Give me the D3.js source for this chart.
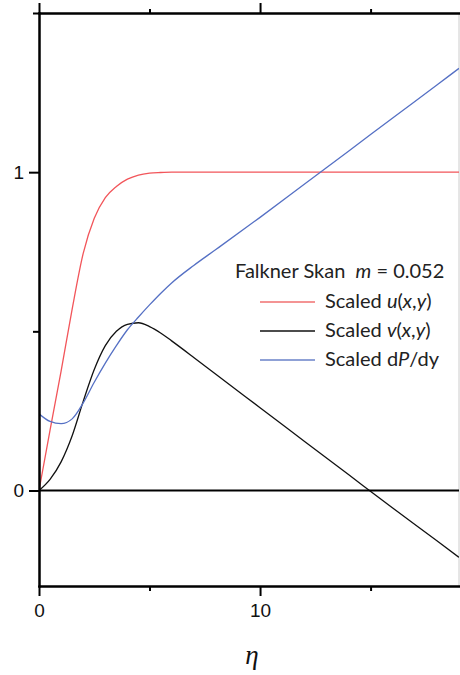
<!DOCTYPE html>
<html>
<head>
<meta charset="utf-8">
<script src="https://cdn.jsdelivr.net/npm/d3@7"></script>
<style>
  body { margin: 0; background: #fff; }
  svg { display: block; }
  .tick text { font-family: "Liberation Sans", Arial, sans-serif; font-size: 19px; fill: #111; }
  .legend text { font-family: Lato, "Open Sans", sans-serif; font-size: 20px; fill: #222; }
</style>
</head>
<body>
<div id="chart-area"></div>
<script>
// values
const eta    = [0, 0.5, 1, 1.5, 2, 2.5, 3, 3.5, 4, 4.5, 5, 5.5, 6, 7, 8, 10, 12, 14, 16, 18, 19];
const uScaled = [0, 0.19, 0.375, 0.57, 0.745, 0.855, 0.92, 0.955, 0.978, 0.991, 0.997, 0.999, 1, 1, 1, 1, 1, 1, 1, 1, 1];
const vScaled = [0, 0.035, 0.09, 0.172, 0.28, 0.38, 0.455, 0.5, 0.522, 0.527, 0.515, 0.495, 0.47, 0.418, 0.365, 0.26, 0.155, 0.05, -0.055, -0.158, -0.21];
const dpScaled = [0.241, 0.217, 0.21, 0.225, 0.275, 0.34, 0.40, 0.455, 0.505, 0.545, 0.583, 0.619, 0.652, 0.707, 0.757, 0.858, 0.962, 1.066, 1.17, 1.274, 1.326];

const xMajor = [0, 10], xMinor = [5, 15];
const yMajor = [0, 1], yMinor = [0.5, 1.5];

const W = 460, H = 675;
const X0 = 39, X1 = 459, Y0 = 586, Y1 = 13;

const svg = d3.select("#chart-area").append("svg")
  .attr("width", W)
  .attr("height", H);

const x = d3.scaleLinear().domain([0, 19]).range([X0, X1]);
const y = d3.scaleLinear().domain([-0.3, 1.5]).range([Y0, Y1]);

svg.append("clipPath").attr("id", "clip")
  .append("rect").attr("x", X0).attr("y", Y1).attr("width", X1 - X0).attr("height", Y0 - Y1);

// right frame edge (light)
svg.append("line")
  .attr("x1", X1).attr("x2", X1).attr("y1", Y1).attr("y2", Y0)
  .attr("stroke", "#ccc").attr("stroke-width", 1);

const series = [
  { name: "u", values: uScaled, color: "#f2555a" },
  { name: "v", values: vScaled, color: "#111" },
  { name: "dp", values: dpScaled, color: "#5570c4" }
];

const line = d3.line()
  .x(d => x(d[0]))
  .y(d => y(d[1]))
  .curve(d3.curveMonotoneX);

const plot = svg.append("g").attr("clip-path", "url(#clip)");
series.forEach(s => {
  plot.append("path")
    .datum(eta.map((e, i) => [e, s.values[i]]))
    .attr("fill", "none")
    .attr("stroke", s.color)
    .attr("stroke-width", 1.3)
    .attr("d", line);
});

// zero line
svg.append("line")
  .attr("x1", x(0)).attr("x2", X1).attr("y1", y(0)).attr("y2", y(0))
  .attr("stroke", "#000").attr("stroke-width", 2);

function styleAxis(g) {
  g.selectAll("path, line").attr("stroke", "#000").attr("stroke-width", 2);
  g.select(".domain").attr("stroke-linecap", "square");
}

// bottom
svg.append("g").attr("transform", `translate(0,${Y0})`)
  .call(d3.axisBottom(x).tickValues(xMajor).tickSize(10).tickPadding(8).tickSizeOuter(0).tickFormat(d3.format("d")))
  .call(styleAxis);
svg.append("g").attr("transform", `translate(0,${Y0})`)
  .call(d3.axisBottom(x).tickValues(xMinor).tickSize(5).tickSizeOuter(0).tickFormat(""))
  .call(styleAxis);

// top
svg.append("g").attr("transform", `translate(0,${Y1})`)
  .call(d3.axisTop(x).tickValues(xMajor).tickSize(10).tickSizeOuter(0).tickFormat(""))
  .call(styleAxis);
svg.append("g").attr("transform", `translate(0,${Y1})`)
  .call(d3.axisTop(x).tickValues(xMinor).tickSize(4).tickSizeOuter(0).tickFormat(""))
  .call(styleAxis);

// left
svg.append("g").attr("transform", `translate(${X0},0)`)
  .call(d3.axisLeft(y).tickValues(yMajor).tickSize(10).tickPadding(5).tickSizeOuter(0).tickFormat(d3.format("d")))
  .call(styleAxis);
svg.append("g").attr("transform", `translate(${X0},0)`)
  .call(d3.axisLeft(y).tickValues(yMinor).tickSize(6).tickSizeOuter(0).tickFormat(""))
  .call(styleAxis);

// x title
svg.append("text")
  .attr("x", 252).attr("y", 664)
  .attr("text-anchor", "middle")
  .style("font-family", "'Liberation Serif', 'DejaVu Serif', serif")
  .style("font-style", "italic")
  .style("font-size", "27px")
  .attr("fill", "#111")
  .text("η");

// legend
const legend = svg.append("g").attr("class", "legend");
const title = legend.append("text").attr("x", 235).attr("y", 278);
title.append("tspan").text("Falkner Skan\u00a0\u00a0");
title.append("tspan").style("font-style", "italic").text("m");
title.append("tspan").text(" = 0.052");

const legendRows = [
  { color: "#f07070", parts: [["Scaled ", false], ["u", true], ["(", false], ["x", true], [",", false], ["y", true], [")", false]] },
  { color: "#111", parts: [["Scaled ", false], ["v", true], ["(", false], ["x", true], [",", false], ["y", true], [")", false]] },
  { color: "#6a82c8", parts: [["Scaled d", false], ["P", true], ["/dy", false]] }
];
legendRows.forEach((r, i) => {
  const yy = 302 + i * 29;
  legend.append("line")
    .attr("x1", 260).attr("x2", 315).attr("y1", yy).attr("y2", yy)
    .attr("stroke", r.color).attr("stroke-width", 1.3);
  const t = legend.append("text").attr("x", 325).attr("y", yy + 6);
  r.parts.forEach(p => {
    t.append("tspan").style("font-style", p[1] ? "italic" : "normal").text(p[0]);
  });
});
</script>
</body>
</html>
